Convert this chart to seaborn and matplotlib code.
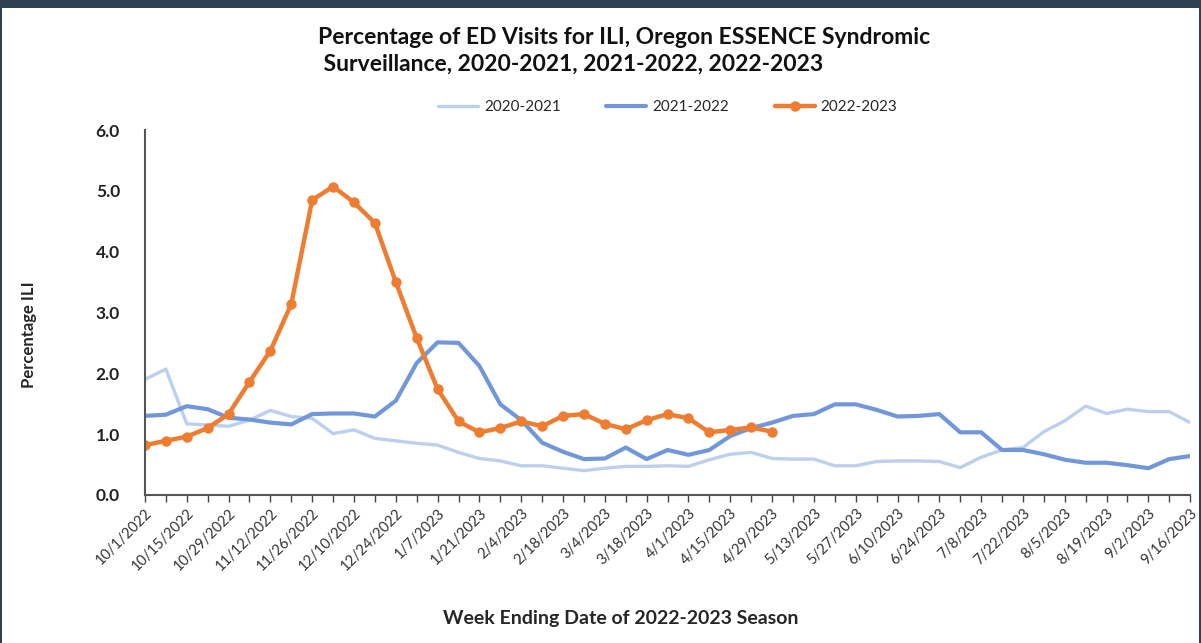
import matplotlib
matplotlib.use('Agg')
import matplotlib.pyplot as plt
import pandas as pd
import seaborn as sns
from matplotlib.patches import Rectangle

# week ending dates of the 2022-2023 season
weeks = pd.date_range('2022-10-01', periods=51, freq='7D')
week_labels = [f'{d.month}/{d.day}/{d.year}' for d in weeks]

ili_2020_21 = [1.90, 2.07, 1.17, 1.15, 1.13, 1.23, 1.39, 1.29, 1.26, 1.01,
               1.07, 0.93, 0.89, 0.85, 0.82, 0.70, 0.60, 0.56, 0.48, 0.48,
               0.44, 0.40, 0.44, 0.47, 0.47, 0.48, 0.47, 0.58, 0.67, 0.70,
               0.60, 0.59, 0.59, 0.48, 0.48, 0.55, 0.56, 0.56, 0.55, 0.45,
               0.62, 0.74, 0.78, 1.04, 1.22, 1.46, 1.34, 1.41, 1.37, 1.37,
               1.19]
ili_2021_22 = [1.30, 1.32, 1.46, 1.41, 1.27, 1.24, 1.19, 1.16, 1.33, 1.34,
               1.34, 1.29, 1.55, 2.17, 2.51, 2.50, 2.12, 1.49, 1.23, 0.86,
               0.71, 0.59, 0.60, 0.78, 0.59, 0.74, 0.66, 0.74, 0.97, 1.10,
               1.19, 1.30, 1.33, 1.49, 1.49, 1.40, 1.29, 1.30, 1.33, 1.03,
               1.03, 0.74, 0.74, 0.67, 0.58, 0.53, 0.53, 0.49, 0.44, 0.59,
               0.64]
ili_2022_23 = [0.82, 0.89, 0.96, 1.10, 1.33, 1.86, 2.37, 3.14, 4.85, 5.07,
               4.81, 4.47, 3.50, 2.58, 1.74, 1.21, 1.03, 1.10, 1.21, 1.13,
               1.30, 1.33, 1.17, 1.08, 1.23, 1.33, 1.26, 1.03, 1.07, 1.11,
               1.04]

seasons = ['2020-2021', '2021-2022', '2022-2023']
colors = ['#bcd0ee', '#7197da', '#ee7d31']

df_a = pd.DataFrame({'week': range(len(ili_2020_21)), 'ili': ili_2020_21})
df_b = pd.DataFrame({'week': range(len(ili_2021_22)), 'ili': ili_2021_22})
df_c = pd.DataFrame({'week': range(len(ili_2022_23)), 'ili': ili_2022_23})

sns.set_style('white')
plt.rcParams['font.family'] = ['Lato', 'DejaVu Sans']

fig = plt.figure(figsize=(12.01, 6.43), dpi=100)
ax = fig.add_axes([0.1207, 0.2302, 0.8703, 0.5676])

sns.lineplot(data=df_a, x='week', y='ili', ax=ax, color=colors[0], lw=2.4, label=seasons[0])
sns.lineplot(data=df_b, x='week', y='ili', ax=ax, color=colors[1], lw=3, label=seasons[1])
sns.lineplot(data=df_c, x='week', y='ili', ax=ax, color=colors[2], lw=3.2, marker='o',
             markersize=7.5, markeredgewidth=0, label=seasons[2])

ax.set_xlim(0, 50)
ax.set_ylim(0, 6)
ax.set_yticks([0, 1, 2, 3, 4, 5, 6])
ax.set_yticklabels([f'{v:.1f}' for v in range(7)], fontsize=12.5, fontweight='bold', color='#222222')
ax.set_xticks(range(0, 51, 2))
ax.set_xticks(range(51), minor=True)
ax.set_xticklabels(week_labels[::2], rotation=45, ha='right', rotation_mode='anchor',
                   fontsize=10.5, color='#333333')
ax.tick_params(axis='x', which='both', direction='out', length=5, width=1, color='#444444',
               bottom=True, pad=3)
ax.tick_params(axis='y', length=0, pad=18)

for s in ['top', 'right']:
    ax.spines[s].set_visible(False)
for s in ['left', 'bottom']:
    ax.spines[s].set_color('#555555')
    ax.spines[s].set_linewidth(1.5)

ax.set_xlabel('Week Ending Date of 2022-2023 Season', fontsize=14, fontweight='bold', labelpad=0)
ax.xaxis.set_label_coords(0.455, -0.315)
ax.set_ylabel('Percentage ILI', fontsize=12, fontweight='bold')
ax.yaxis.set_label_coords(-0.103, 0.44)

ax.legend_.remove()
handles, labels = ax.get_legend_handles_labels()
fig.legend(handles, labels, loc='center', bbox_to_anchor=(0.556, 1 - 107 / 643), ncol=3,
           frameon=False, fontsize=11, handlelength=2.6, columnspacing=3.0, handletextpad=0.4)

fig.text(318 / 1201, 1 - 27 / 643,
         'Percentage of ED Visits for ILI, Oregon ESSENCE Syndromic\n Surveillance, 2020-2021, 2021-2022, 2022-2023',
         ha='left', va='top', fontsize=16.5, fontweight='bold', linespacing=1.35, color='#111111')

# dark frame of the source screenshot
fig.add_artist(Rectangle((0, 1 - 8 / 643), 1, 8 / 643, transform=fig.transFigure,
                         color='#2f4052', lw=0))
fig.add_artist(Rectangle((0, 0), 2 / 1201, 1, transform=fig.transFigure, color='#2f4052', lw=0))
fig.add_artist(Rectangle((1 - 2 / 1201, 0), 2 / 1201, 1, transform=fig.transFigure,
                         color='#2f4052', lw=0))

fig.savefig('out.png', dpi=100)
